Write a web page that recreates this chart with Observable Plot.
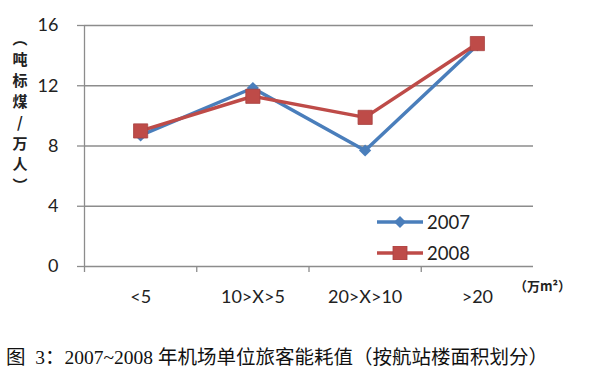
<!DOCTYPE html>
<html><head><meta charset="utf-8">
<script src="https://cdn.jsdelivr.net/npm/d3@7"></script>
<script src="https://cdn.jsdelivr.net/npm/@observablehq/plot@0.6"></script>
<style>
body{margin:0;background:#fff;}
#wrap{position:relative;width:600px;height:386px;background:#fff;font-family:Lato,"Noto Sans CJK SC",sans-serif;overflow:hidden;}
#ylab{position:absolute;left:11px;top:27px;width:18px;text-align:center;font:700 15px/21px "Noto Sans CJK SC",sans-serif;color:#222;}
#unit{position:absolute;left:514px;top:276px;font:700 13px "Noto Sans CJK SC",sans-serif;color:#222;}
#legend{position:absolute;left:377px;top:206px;font:18.5px Lato,sans-serif;color:#222;}
.row{display:flex;align-items:center;height:31px;}
.row span{margin-left:4px;}
#caption{position:absolute;left:6px;top:341px;font:19.5px "Liberation Serif","Noto Sans CJK SC",serif;color:#111;white-space:pre;}
</style></head><body>
<div id="wrap"></div>
<script>
const categories = ["<5", "10>X>5", "20>X>10", ">20"];
const series = ["2007", "2008"];
const values2007 = [8.7, 11.85, 7.7, 14.7];
const values2008 = [9.0, 11.3, 9.9, 14.8];
const yTicks = [0, 4, 8, 12, 16];
const colors = ["#4A7EBB", "#BE4B48"];
const symbols = ["diamond2", "square"];
const yLabel = ["︵", "吨", "标", "煤", "/", "万", "人", "︶"];
const unitLabel = "（万m²）";
const captionText = "图  3：2007~2008 年机场单位旅客能耗值（按航站楼面积划分）";

const rows = [
  ...categories.map((c, i) => ({cat: c, series: "2007", value: values2007[i]})),
  ...categories.map((c, i) => ({cat: c, series: "2008", value: values2008[i]}))
];
const pos = c => categories.indexOf(c) + 0.5;
const grid = "#8c8c8c";

const marks = [
  Plot.ruleY(yTicks, {stroke: grid, strokeWidth: 1.3}),
  Plot.ruleX([0], {stroke: grid, strokeWidth: 1.3}),
  Plot.axisY({ticks: yTicks, tickSize: 7, tickPadding: 19, stroke: grid, strokeWidth: 1.3, fill: "#222", fontSize: 18, label: null}),
  Plot.axisX({ticks: categories.map((c, i) => i), tickSize: 6, stroke: grid, strokeWidth: 1.3, tickFormat: () => "", label: null}),
  Plot.axisX({ticks: categories.map((c, i) => i + 0.5), tickSize: 0, tickPadding: 24, tickFormat: d => categories[Math.floor(d)], fill: "#222", fontSize: 18, label: null})
];
series.forEach((s, k) => {
  const d = rows.filter(r => r.series === s);
  marks.push(Plot.line(d, {x: r => pos(r.cat), y: "value", stroke: colors[k], strokeWidth: 3.5}));
  marks.push(Plot.dot(d, {x: r => pos(r.cat), y: "value", symbol: symbols[k], r: k === 0 ? 5.5 : 8, fill: colors[k], stroke: k === 0 ? null : "#a84341", strokeWidth: 0.8}));
});

const chart = Plot.plot({
  width: 600, height: 330,
  marginTop: 25, marginBottom: 64, marginLeft: 84, marginRight: 67,
  x: {type: "linear", domain: [0, categories.length]},
  y: {domain: [0, 16]},
  style: {fontFamily: "Lato, sans-serif", fontSize: "18px", color: "#222", background: "#fff"},
  marks
});
const wrap = document.getElementById("wrap");
wrap.appendChild(chart);

const yl = document.createElement("div"); yl.id = "ylab";
yl.innerHTML = yLabel.join("<br>");
wrap.appendChild(yl);

const un = document.createElement("div"); un.id = "unit"; un.textContent = unitLabel;
wrap.appendChild(un);

const lg = document.createElement("div"); lg.id = "legend";
series.forEach((s, k) => {
  const row = document.createElement("div"); row.className = "row";
  const sym = k === 0
    ? `<path d="M23,1 L29,7 L23,13 L17,7 Z" fill="${colors[k]}"/>`
    : `<rect x="16" y="0" width="14" height="14" fill="${colors[k]}" stroke="#a84341" stroke-width="0.8"/>`;
  row.innerHTML = `<svg width="46" height="14"><line x1="0" y1="7" x2="46" y2="7" stroke="${colors[k]}" stroke-width="3.5"/>${sym}</svg><span>${s}</span>`;
  lg.appendChild(row);
});
wrap.appendChild(lg);

const cap = document.createElement("div"); cap.id = "caption"; cap.textContent = captionText;
wrap.appendChild(cap);
</script>
</body></html>
